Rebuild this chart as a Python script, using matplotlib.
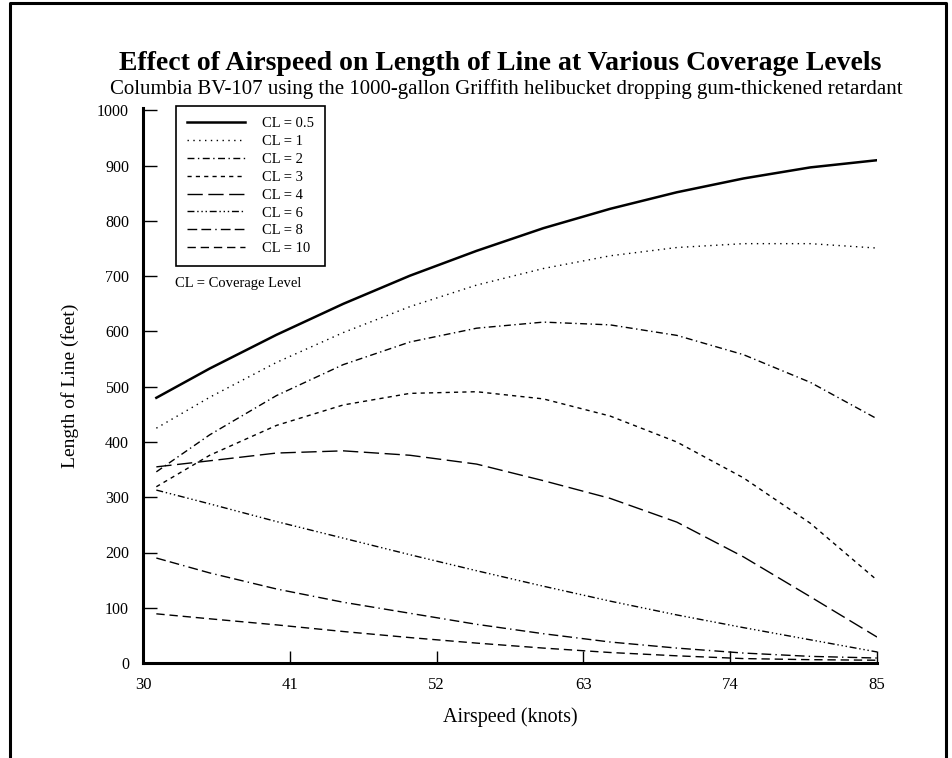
import matplotlib
matplotlib.use("Agg")
import matplotlib.pyplot as plt
from matplotlib.lines import Line2D

plt.rcParams['font.family'] = ['Liberation Serif', 'DejaVu Serif']

airspeed = [31, 35, 40, 45, 50, 55, 60, 65, 70, 75, 80, 85]
cl_05 = [480, 533, 594, 650, 701, 746, 787, 822, 852, 877, 897, 910]
cl_1 = [425, 481, 544, 598, 645, 684, 714, 737, 752, 759, 759, 751]
cl_2 = [346, 413, 484, 540, 581, 606, 617, 612, 593, 558, 508, 442]
cl_3 = [319, 376, 430, 467, 488, 491, 478, 447, 400, 335, 253, 150]
cl_4 = [355, 366, 380, 384, 376, 360, 330, 298, 255, 192, 120, 47]
cl_6 = [313, 288, 256, 226, 196, 167, 139, 112, 87, 64, 42, 20]
cl_8 = [190, 163, 134, 110, 90, 70, 53, 38, 27, 18, 12, 9]
cl_10 = [89, 80, 69, 57, 46, 36, 27, 19, 13, 8, 6, 5]

labels = ['CL = 0.5', 'CL = 1', 'CL = 2', 'CL = 3', 'CL = 4', 'CL = 6', 'CL = 8', 'CL = 10']
series = [cl_05, cl_1, cl_2, cl_3, cl_4, cl_6, cl_8, cl_10]
styles = [
    dict(ls='-', lw=1.8),
    dict(ls=(0, (1, 3.2)), lw=1.0),
    dict(ls=(0, (5, 2.5, 1, 2.5)), lw=1.0),
    dict(ls=(0, (3, 3)), lw=1.0),
    dict(ls=(0, (11, 4)), lw=1.0),
    dict(ls=(0, (5, 2, 1, 2, 1, 2, 1, 2)), lw=1.0),
    dict(ls=(0, (7, 3, 7, 3, 1, 3)), lw=1.0),
    dict(ls=(0, (6, 3.5)), lw=1.0),
]

W, H = 953, 758
fig = plt.figure(figsize=(W / 100, H / 100), dpi=100)
fig.patch.set_facecolor('white')

x0, x1 = 143, 877
ybot = 663
ymax = 1005
ytop = ybot - ymax * 0.5525
ax = fig.add_axes([x0 / W, (H - ybot) / H, (x1 - x0) / W, (ybot - ytop) / H])

for vals, st, lab in zip(series, styles, labels):
    ax.plot(airspeed, vals, color='black', label=lab, dash_capstyle='butt', **st)

ax.set_xlim(30, 85)
ax.set_ylim(0, ymax)
ax.set_xticks([30, 41, 52, 63, 74, 85])
ax.set_yticks(range(0, 1001, 100))
ax.spines['top'].set_visible(False)
ax.spines['right'].set_visible(False)
for s in ['left', 'bottom']:
    ax.spines[s].set_linewidth(2.2)
ax.tick_params(axis='y', direction='in', length=10, width=1.0, pad=10, labelsize=11.5)
ax.tick_params(axis='x', direction='in', length=9, width=1.0, pad=10, labelsize=12)

ax.set_xlabel('Airspeed (knots)', fontsize=14.5, labelpad=10)
ax.set_ylabel('Length of Line (feet)', fontsize=14, labelpad=13)

leg = ax.legend(loc='upper left', bbox_to_anchor=(176 / W, 1 - 106 / H),
                bbox_transform=fig.transFigure, fontsize=10.5, frameon=True,
                fancybox=False, shadow=False, handlelength=4.0, handletextpad=1.15,
                labelspacing=0.32, borderpad=0.75, borderaxespad=0)
leg.get_frame().set_edgecolor('black')
leg.get_frame().set_linewidth(1.2)
leg.get_frame().set_alpha(1)

fig.text(175 / W, 1 - 283 / H, 'CL = Coverage Level', fontsize=10.5, ha='left', va='center')

fig.text(500 / W, 1 - 63 / H, 'Effect of Airspeed on Length of Line at Various Coverage Levels',
         fontsize=20, fontweight='bold', ha='center', va='center')
fig.text(506 / W, 1 - 89 / H,
         'Columbia BV-107 using the 1000-gallon Griffith helibucket dropping gum-thickened retardant',
         fontsize=15, ha='center', va='center')

# outer frame (open at the bottom)
fx0, fx1, fy = 10 / W, 946 / W, 1 - 3 / H
fig.add_artist(Line2D([fx0, fx0, fx1, fx1], [0, fy, fy, 0], transform=fig.transFigure,
                      color='black', lw=2.2))

fig.savefig('out.png', dpi=100)
